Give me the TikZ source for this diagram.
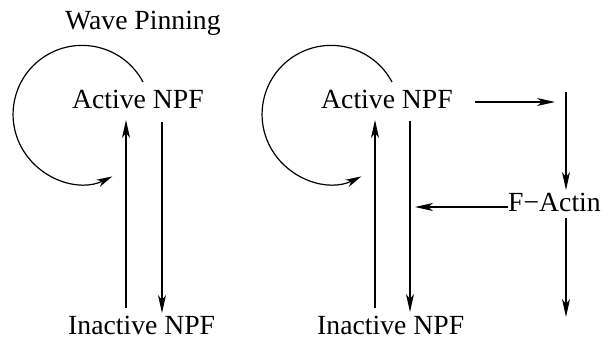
\documentclass[tikz,border=0pt]{standalone}
\usepackage{fontspec}
\setmainfont{Liberation Serif}
\usetikzlibrary{arrows.meta}
\begin{document}
\begin{tikzpicture}[x=1pt,y=-1pt,
  lbl/.style={inner sep=0pt, anchor=base west, font=\fontsize{27.7}{32}\selectfont},
  arr/.style={-{Stealth[length=18pt,width=8pt,inset=5pt]}, line width=1.3pt},
  loopline/.style={-{Stealth[length=16pt,width=8pt,inset=5pt]}, line width=1.2pt}]
\useasboundingbox (0,0) rectangle (608,340);
% labels
\node[lbl] (title) at (65,29) {Wave Pinning};
\node[lbl] (actL) at (72,108) {Active NPF};
\node[lbl] (inL) at (68,334) {Inactive NPF};
\node[lbl] (actR) at (321,108) {Active NPF};
\node[lbl] (inR) at (317,334) {Inactive NPF};
\node[lbl] (fa) at (508,211) {F−Actin};
% left panel
\draw[loopline] ([shift={(71,-26)}]actL.base west) arc[start angle=-28, end angle=-296, radius=69];
\draw[arr] ([shift={(58,-26)}]inL.base west) -- ++(0,-188);
\draw[arr] ([shift={(90,14)}]actL.base west) -- ++(0,191);
% right panel
\draw[loopline] ([shift={(71,-26)}]actR.base west) arc[start angle=-28, end angle=-296, radius=69];
\draw[arr] ([shift={(58,-26)}]inR.base west) -- ++(0,-188);
\draw[arr] ([shift={(89,13)}]actR.base west) -- ++(0,191);
\draw[arr] ([shift={(154,-6)}]actR.base west) -- ++(80,0);
\draw[arr] ([shift={(58,-119)}]fa.base west) -- ++(0,98);
\draw[arr] ([shift={(0,-4)}]fa.base west) -- ++(-93,0);
\draw[arr] ([shift={(58,7)}]fa.base west) -- ++(0,99);
\end{tikzpicture}
\end{document}
